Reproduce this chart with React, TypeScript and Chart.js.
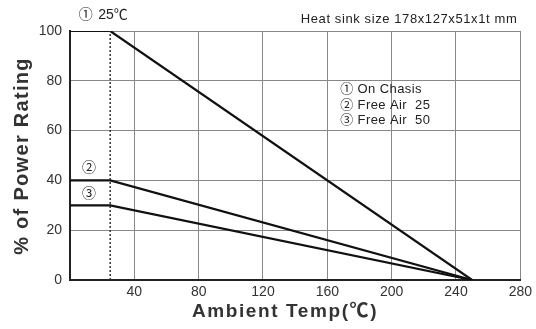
import React, { useEffect, useRef } from "react";
import { Chart, registerables } from "chart.js";

Chart.register(...registerables);

const ambientTemps = [0, 25, 250];
const onChasis = [100, 100, 0];
const freeAir25 = [40, 40, 0];
const freeAir50 = [30, 30, 0];
const xMin = 0;
const xMax = 280;
const xStep = 40;
const yMin = 0;
const yMax = 100;
const yStep = 20;
const derateStart = 25;
const legendLines = ["① On Chasis", "② Free Air  25", "③ Free Air  50"];
const noteText = "Heat sink size 178x127x51x1t mm";
const xTitle = "Ambient Temp(℃)";
const yTitle = "% of Power Rating";

const FONT = "'Liberation Sans', Arial, 'Noto Sans CJK JP', sans-serif";

const annotations = {
  id: "annotations",
  afterDatasetsDraw(chart: any) {
    const { ctx, scales } = chart;
    const xs = scales.x;
    const ys = scales.y;
    ctx.save();
    // dotted line at 25C
    ctx.strokeStyle = "#333";
    ctx.lineWidth = 1.5;
    ctx.setLineDash([2, 2]);
    ctx.beginPath();
    const px = xs.getPixelForValue(derateStart);
    ctx.moveTo(px, ys.getPixelForValue(yMin));
    ctx.lineTo(px, ys.getPixelForValue(yMax));
    ctx.stroke();
    ctx.setLineDash([]);

    ctx.fillStyle = "#222";
    ctx.textBaseline = "middle";
    ctx.textAlign = "left";
    ctx.font = `14px ${FONT}`;
    ctx.fillText("①", xs.getPixelForValue(5.5), ys.getPixelForValue(106.5));
    ctx.fillText("25℃", xs.getPixelForValue(17.5), ys.getPixelForValue(106.5));
    ctx.fillText("②", xs.getPixelForValue(7.5), ys.getPixelForValue(45));
    ctx.fillText("③", xs.getPixelForValue(7.5), ys.getPixelForValue(34.5));

    ctx.font = `13px ${FONT}`;
    (ctx as any).letterSpacing = "0.4px";
    legendLines.forEach((t, i) => {
      ctx.fillText(t, xs.getPixelForValue(168), ys.getPixelForValue(76.5 - i * 6.3));
    });

    ctx.textAlign = "right";
    (ctx as any).letterSpacing = "0.6px";
    ctx.fillText(noteText, xs.getPixelForValue(xMax) - 3, ys.getPixelForValue(104.8));

    // axis titles
    ctx.fillStyle = "#333";
    ctx.textAlign = "center";
    ctx.font = `bold 19px ${FONT}`;
    (ctx as any).letterSpacing = "1.6px";
    ctx.fillText(xTitle, 285, 312);

    ctx.translate(22, 156);
    ctx.rotate(-Math.PI / 2);
    ctx.font = `bold 20px ${FONT}`;
    (ctx as any).letterSpacing = "1.3px";
    ctx.fillText(yTitle, 0, 0);
    ctx.restore();
  },
};

export default function App() {
  const ref = useRef<HTMLCanvasElement | null>(null);
  useEffect(() => {
    if (!ref.current) return;
    const mk = (vals: number[]) => ambientTemps.map((x, i) => ({ x, y: vals[i] }));
    const ds = (label: string, vals: number[]) => ({
      label,
      data: mk(vals),
      borderColor: "#111",
      borderWidth: 2.2,
      pointRadius: 0,
      fill: false,
      tension: 0,
    });
    const chart = new Chart(ref.current, {
      type: "line",
      data: {
        datasets: [ds("On Chasis", onChasis), ds("Free Air 25", freeAir25), ds("Free Air 50", freeAir50)],
      },
      plugins: [annotations],
      options: {
        responsive: false,
        animation: false,
        layout: { padding: { top: 31, right: 13, left: 0, bottom: 0 } },
        plugins: { legend: { display: false }, tooltip: { enabled: false } },
        scales: {
          x: {
            type: "linear",
            min: xMin,
            max: xMax,
            ticks: {
              stepSize: xStep,
              callback: (v: any) => (v === 0 ? "" : String(v)),
              color: "#333",
              font: { size: 14, family: FONT },
              padding: 4,
              maxRotation: 0,
            },
            grid: { color: "#888", lineWidth: 1, drawTicks: false },
            border: { color: "#222", width: 2 },
            afterFit: (s: any) => {
              s.height = 49;
            },
          },
          y: {
            type: "linear",
            min: yMin,
            max: yMax,
            ticks: {
              stepSize: yStep,
              color: "#333",
              font: { size: 14, family: FONT },
              padding: 8,
            },
            grid: { color: "#888", lineWidth: 1, drawTicks: false },
            border: { color: "#222", width: 2 },
            afterFit: (s: any) => {
              s.width = 70;
            },
          },
        },
      },
    });
    return () => chart.destroy();
  }, []);
  return (
    <div style={{ position: "absolute", left: 0, top: 0, width: 536, height: 329, background: "#fff" }}>
      <canvas ref={ref} width={536} height={329} />
    </div>
  );
}
